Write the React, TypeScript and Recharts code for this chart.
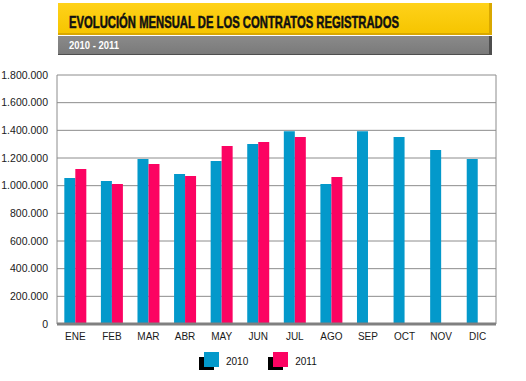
import { BarChart, Bar, XAxis, YAxis, CartesianGrid, Legend } from 'recharts'

const months = ['ENE', 'FEB', 'MAR', 'ABR', 'MAY', 'JUN', 'JUL', 'AGO', 'SEP', 'OCT', 'NOV', 'DIC']
const values2010 = [1056000, 1034000, 1193000, 1085000, 1179000, 1301000, 1393000, 1012000, 1393000, 1352000, 1258000, 1193000]
const values2011 = [1121000, 1012000, 1157000, 1070000, 1287000, 1316000, 1352000, 1063000, null, null, null, null]
const yTicks = [0, 200000, 400000, 600000, 800000, 1000000, 1200000, 1400000, 1600000, 1800000]

const seriesNames = ['2010', '2011']
const BLUE = '#0399CB'
const PINK = '#FC0362'

const title = 'EVOLUCIÓN MENSUAL DE LOS CONTRATOS REGISTRADOS'
const subtitle = '2010 - 2011'

const data = months.map((m, i) => ({ month: m, y2010: values2010[i], y2011: values2011[i] }))

const fmt = (v: number) => String(v).replace(/\B(?=(\d{3})+(?!\d))/g, '.')

function LegendBox({ payload }: any) {
  return (
    <div style={{ display: 'flex', height: 22, alignItems: 'center', paddingLeft: 199 }}>
      {(payload || []).map((p: any, i: number) => (
        <div key={i} style={{ display: 'flex', alignItems: 'center', marginRight: 20 }}>
          <div style={{ position: 'relative', width: 20, height: 18 }}>
            <div style={{ position: 'absolute', left: 0, top: 5, width: 15, height: 13, background: '#000' }} />
            <div style={{ position: 'absolute', left: 5, top: 0, width: 15, height: 15, background: p.color }} />
          </div>
          <span style={{ marginLeft: 7, fontFamily: 'Liberation Sans, Arial, sans-serif', fontSize: 10, color: '#111' }}>
            {p.value}
          </span>
        </div>
      ))}
    </div>
  )
}

function Header() {
  return (
    <svg width={526} height={60} style={{ position: 'absolute', left: 0, top: 0 }}>
      <defs>
        <linearGradient id="yel" x1="0" y1="0" x2="0" y2="1">
          <stop offset="0%" stopColor="#FFD21A" />
          <stop offset="100%" stopColor="#F6C500" />
        </linearGradient>
        <linearGradient id="gry" x1="0" y1="0" x2="0" y2="1">
          <stop offset="0%" stopColor="#8A8A8A" />
          <stop offset="100%" stopColor="#7A7A7A" />
        </linearGradient>
      </defs>
      <rect x={58} y={3} width={434} height={32} fill="#D9A800" />
      <rect x={58} y={3} width={431} height={30} fill="url(#yel)" />
      <text
        transform="translate(69,28) scale(1,1.5)"
        textLength={330}
        lengthAdjust="spacingAndGlyphs"
        fontFamily="Liberation Sans, Arial, sans-serif"
        fontWeight={900}
        fontSize={11}
        stroke="#111"
        strokeWidth={0.35}
        fill="#111"
      >
        {title}
      </text>
      <rect x={58} y={36} width={434} height={19} fill="#4E4E4E" />
      <rect x={58} y={36} width={431} height={18} fill="url(#gry)" />
      <text
        x={69}
        y={48.5}
        textLength={50}
        lengthAdjust="spacingAndGlyphs"
        fontFamily="Liberation Sans, Arial, sans-serif"
        fontWeight={700}
        fontSize={10.5}
        fill="#fff"
      >
        {subtitle}
      </text>
    </svg>
  )
}

export default function App() {
  return (
    <div style={{ position: 'absolute', left: 0, top: 0, width: 526, height: 381, background: '#fff' }}>
      <BarChart
        width={526}
        height={381}
        data={data}
        margin={{ top: 75, right: 30, left: 0, bottom: 9 }}
        barCategoryGap="20%"
        barGap={0}
      >
        <CartesianGrid
          stroke="#8C8C8C"
          strokeWidth={1}
          verticalCoordinatesGenerator={({ offset }: any) => [offset.left, offset.left + offset.width]}
        />
        <XAxis
          dataKey="month"
          axisLine={{ stroke: '#808080', strokeWidth: 3 }}
          tickLine={false}
          tickSize={0}
          tickMargin={9}
          height={26}
          interval={0}
          tick={{ fontSize: 10, fill: '#1a1a1a', fontFamily: 'Liberation Sans, Arial, sans-serif' }}
        />
        <YAxis
          width={57}
          domain={[0, 1800000]}
          ticks={yTicks}
          tickFormatter={fmt}
          axisLine={false}
          tickLine={false}
          tickSize={0}
          tickMargin={9}
          tick={{ fontSize: 10.5, fill: '#1a1a1a', fontFamily: 'Liberation Sans, Arial, sans-serif' }}
        />
        <Legend verticalAlign="bottom" content={<LegendBox />} />
        <Bar dataKey="y2010" name={seriesNames[0]} fill={BLUE} isAnimationActive={false} />
        <Bar dataKey="y2011" name={seriesNames[1]} fill={PINK} isAnimationActive={false} />
      </BarChart>
      <Header />
    </div>
  )
}
